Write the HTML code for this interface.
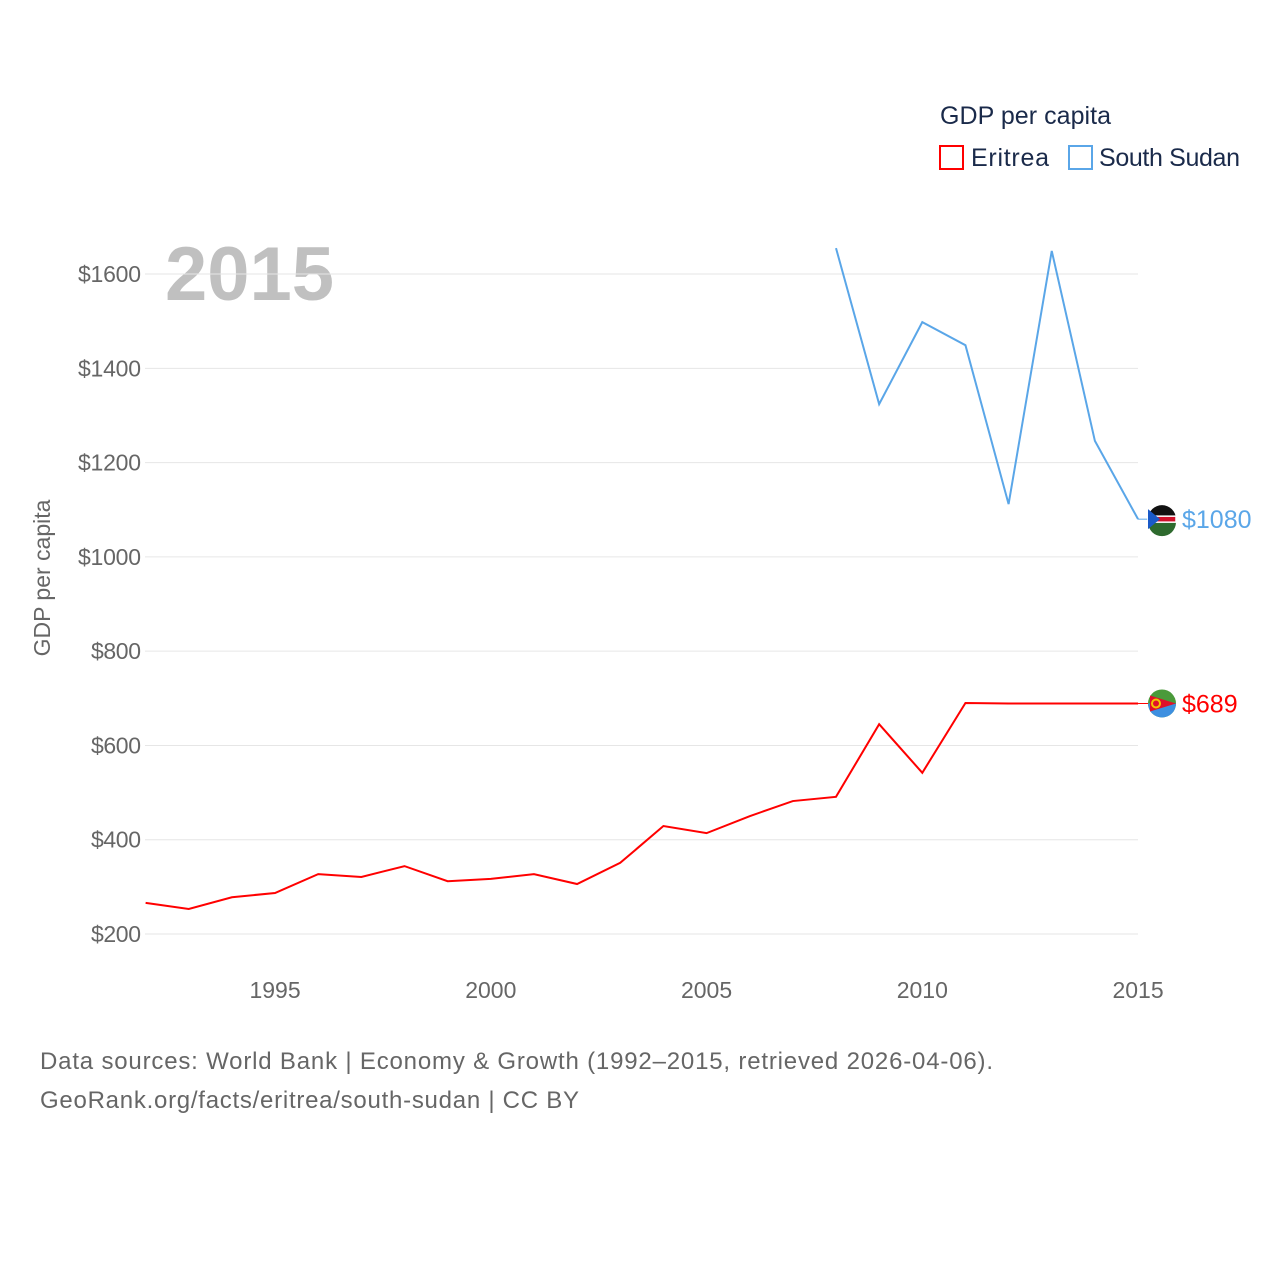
<!DOCTYPE html>
<html><head><meta charset="utf-8"><style>
body{margin:0;background:#fff;font-family:"Liberation Sans",sans-serif;}
svg text{font-family:"Liberation Sans",sans-serif;}
</style></head><body>
<svg id="chart" width="1280" height="1280" xmlns="http://www.w3.org/2000/svg">
<text x="940" y="124" font-size="25" fill="#1a2a4a" textLength="171">GDP per capita</text>
<g><rect x="940" y="146" width="23" height="23" fill="none" stroke="#ff0000" stroke-width="2"/><text x="971" y="166" font-size="25" fill="#1a2a4a" textLength="78">Eritrea</text></g>
<g><rect x="1069" y="146" width="23" height="23" fill="none" stroke="#5aa6e8" stroke-width="2"/><text x="1099" y="166" font-size="25" fill="#1a2a4a" textLength="141">South Sudan</text></g>
<text x="165" y="300" font-size="76" font-weight="bold" fill="#c0c0c0">2015</text>
<text transform="translate(50,578) rotate(-90)" text-anchor="middle" font-size="23" fill="#666">GDP per capita</text>
<g id="grid"></g><g id="series"></g>
<text x="40" y="1069" font-size="24" fill="#666" textLength="953">Data sources: World Bank | Economy &amp; Growth (1992–2015, retrieved 2026-04-06).</text>
<text x="40" y="1108" font-size="24" fill="#666" textLength="539">GeoRank.org/facts/eritrea/south-sudan | CC BY</text>
</svg>
<script>
const years=[1992,1993,1994,1995,1996,1997,1998,1999,2000,2001,2002,2003,2004,2005,2006,2007,2008,2009,2010,2011,2012,2013,2014,2015];
const eritrea=[266,253,278,287,327,321,344,312,317,327,306,351,429,414,450,482,491,645,542,690,689,689,689,689];
const ssYears=[2008,2009,2010,2011,2012,2013,2014,2015];
const southSudan=[1655,1324,1498,1449,1112,1649,1246,1080];
const yTicks=[200,400,600,800,1000,1200,1400,1600];
const xTicks=[1995,2000,2005,2010,2015];
const NS="http://www.w3.org/2000/svg";
const X=v=>145.6+(v-1992)*43.15;
const Y=v=>934-(v-200)*0.4714;
const g=document.getElementById('grid'),s=document.getElementById('series');
function mk(tag,attrs,txt,parent){const e=document.createElementNS(NS,tag);for(const k in attrs)e.setAttribute(k,attrs[k]);if(txt)e.textContent=txt;parent.appendChild(e);return e;}
yTicks.forEach(t=>{
 const l=mk('line',{x1:145,x2:1138,y1:Y(t),y2:Y(t),stroke:'#e6e6e6','stroke-width':1},null,g);
 
 
 const tx=mk('text',{x:141,y:Y(t)+8,'text-anchor':'end','font-size':23,fill:'#666',textLength:String(t).length*13+11},'$'+t,g);
 
 
});
xTicks.forEach(t=>{
 const tx=mk('text',{x:X(t),y:998,'text-anchor':'middle','font-size':23,fill:'#666'},String(t),g);
 
 
});
const pe=mk('polyline',{points:years.map((y,i)=>X(y)+','+Y(eritrea[i])).join(' '),fill:'none',stroke:'#ff0000','stroke-width':2},null,s);


const ps=mk('polyline',{points:ssYears.map((y,i)=>X(y)+','+Y(southSudan[i])).join(' '),fill:'none',stroke:'#5aa6e8','stroke-width':2},null,s);


const le=eritrea[eritrea.length-1],ls=southSudan[southSudan.length-1];
const c1=mk('line',{x1:X(2015),x2:1150,y1:Y(le),y2:Y(le),stroke:'#ff0000','stroke-width':1},null,s);


const c2=mk('line',{x1:X(2015),x2:1150,y1:Y(ls),y2:Y(ls),stroke:'#5aa6e8','stroke-width':1},null,s);


const f1=mk('g',{},null,s);


const ye=Y(le);
mk('circle',{cx:1162,cy:ye,r:14,fill:'#4a9a3a'},null,f1);
mk('path',{d:`M1148 ${ye} L1176 ${ye} A14 14 0 0 1 1148 ${ye} Z`,fill:'#3d8fe0'},null,f1);
mk('path',{d:`M1150 ${ye-8} L1176 ${ye} L1150 ${ye+8} Z`,fill:'#e0102a'},null,f1);
mk('circle',{cx:1156,cy:ye,r:4,fill:'none',stroke:'#f5c400','stroke-width':2},null,f1);
const f2=mk('g',{},null,s);


const ys=Y(ls);
mk('circle',{cx:1162,cy:ys,r:14,fill:'#111'},null,f2);
mk('path',{d:`M1148 ${ys+3} L1176 ${ys+3} A14 14 0 0 1 1148 ${ys+3} Z`,fill:'#2e6a2e'},null,f2);
mk('rect',{x:1148,y:ys-3,width:28,height:6,fill:'#d0102a',stroke:'#fff','stroke-width':1.5},null,f2);
mk('path',{d:`M1148 ${ys-10} L1160 ${ys} L1148 ${ys+10} Z`,fill:'#1a5ac8'},null,f2);
const t1=mk('text',{x:1182,y:ye+9,'font-size':25,fill:'#ff0000'},'$'+le,s);


const t2=mk('text',{x:1182,y:ys+9,'font-size':25,fill:'#5aa6e8'},'$'+ls,s);


</script>
</body></html>
